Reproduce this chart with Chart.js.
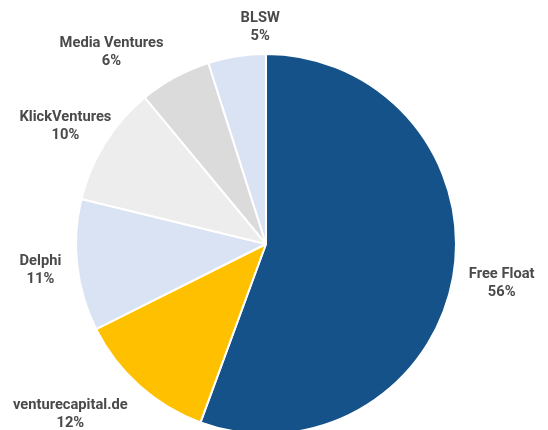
<!DOCTYPE html>
<html>
<head>
<meta charset="utf-8">
<script src="https://cdn.jsdelivr.net/npm/chart.js@4"></script>
<style>
  html, body { margin: 0; padding: 0; background: #fff; overflow: hidden; }
  #wrap { position: relative; width: 548px; height: 488px; }
</style>
</head>
<body>
<div id="wrap"><canvas id="pie"></canvas></div>
<script>
// shareholder structure, clockwise from 12 o'clock
var LABELS = ['Free Float', 'venturecapital.de', 'Delphi', 'KlickVentures', 'Media Ventures', 'BLSW'];
var SHARES = [55.6, 12.0, 11.2, 10.2, 6.1, 4.9];
var SLICE_COLORS = ['#15528A', '#FFC000', '#DAE3F3', '#EDEDED', '#DBDBDB', '#DAE3F3'];

// small hand nudges so labels sit where the original placed them (px)
var LABEL_NUDGE = [[0, -1], [-5, -1], [0, 0], [20, 5], [-21, 7], [30, 5]];

var TEXT_COLOR = '#4a4a4a';
var FONT = "bold 14.7px Roboto, 'Liberation Sans', sans-serif";

var outsideLabels = {
  id: 'outsideLabels',
  afterDatasetsDraw: function(chart) {
    var ctx = chart.ctx;
    var meta = chart.getDatasetMeta(0);
    ctx.save();
    ctx.font = FONT;
    ctx.fillStyle = TEXT_COLOR;
    ctx.textAlign = 'center';
    ctx.textBaseline = 'middle';
    meta.data.forEach(function(arc, i) {
      var p = arc.getProps(['x', 'y', 'startAngle', 'endAngle', 'outerRadius'], true);
      var mid = (p.startAngle + p.endAngle) / 2;
      var c = Math.cos(mid), s = Math.sin(mid);
      var line1 = LABELS[i];
      var line2 = Math.round(SHARES[i]) + '%';
      var halfW = Math.max(ctx.measureText(line1).width, ctx.measureText(line2).width) / 2;
      var halfH = 18;
      var d = p.outerRadius + 16;
      var cx = p.x + c * d + Math.max(-1, Math.min(1, c * 1.4)) * halfW + LABEL_NUDGE[i][0];
      var cy = p.y + s * d + Math.max(-1, Math.min(1, s * 1.4)) * halfH + LABEL_NUDGE[i][1];
      ctx.fillText(line1, cx, cy - 9);
      ctx.fillText(line2, cx, cy + 9);
    });
    ctx.restore();
  }
};

new Chart(document.getElementById('pie'), {
  type: 'pie',
  data: {
    labels: LABELS,
    datasets: [{
      data: SHARES,
      backgroundColor: SLICE_COLORS,
      borderColor: '#ffffff',
      borderWidth: 2,
    }],
  },
  options: {
    responsive: true,
    maintainAspectRatio: false,
    animation: false,
    radius: 190,
    layout: { padding: { right: 16 } },
    plugins: {
      legend: { display: false },
      tooltip: { enabled: false },
    },
  },
  plugins: [outsideLabels],
});
</script>
</body>
</html>
